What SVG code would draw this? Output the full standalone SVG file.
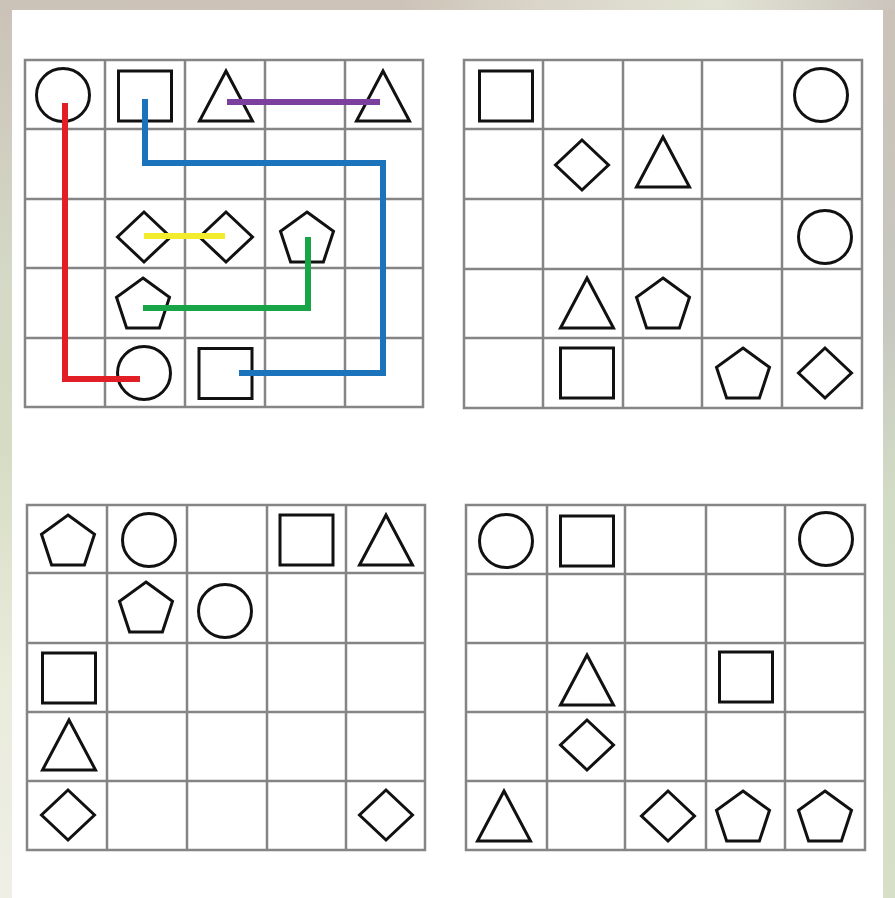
<svg xmlns="http://www.w3.org/2000/svg" xmlns:xlink="http://www.w3.org/1999/xlink" width="895" height="898" viewBox="0 0 895 898">
<defs>
<linearGradient id="bgL" x1="0" y1="0" x2="0" y2="1">
<stop offset="0" stop-color="#cbc2b8"/>
<stop offset="0.3" stop-color="#d4d8c6"/>
<stop offset="0.5" stop-color="#d6dcc4"/>
<stop offset="0.75" stop-color="#e9ebdb"/>
<stop offset="1" stop-color="#efefe6"/>
</linearGradient>
<linearGradient id="bgR" x1="0" y1="0" x2="0" y2="1">
<stop offset="0" stop-color="#cbc2b8"/>
<stop offset="0.35" stop-color="#c6c7c0"/>
<stop offset="0.55" stop-color="#d2dbc4"/>
<stop offset="1" stop-color="#d7e0c6"/>
</linearGradient>
<linearGradient id="bgT" x1="0" y1="0" x2="1" y2="0">
<stop offset="0" stop-color="#cbc2b8"/>
<stop offset="0.45" stop-color="#cec3b8"/>
<stop offset="0.6" stop-color="#d9d5c8"/>
<stop offset="0.8" stop-color="#e2e3d4"/>
<stop offset="1" stop-color="#cbc5bd"/>
</linearGradient>
<style>
.cell{fill:none;stroke:#858585;stroke-width:2.5}
.sh{fill:none;stroke:#111;stroke-width:3;stroke-linejoin:miter}
.ln{fill:none;stroke-width:6;stroke-linecap:butt;stroke-linejoin:miter}
</style>
<circle id="circle" class="sh" cx="0" cy="0" r="26.5"/>
<rect id="square" class="sh" x="-26.5" y="-25" width="53" height="50"/>
<polygon id="triangle" class="sh" points="0,-25 26.5,25 -26.5,25"/>
<polygon id="diamond" class="sh" points="0,-25 26.5,0 0,25 -26.5,0"/>
<polygon id="pentagon" class="sh" points="0,-25 26.5,-5.7 16.4,25 -16.4,25 -26.5,-5.7"/>
</defs>
<rect x="0" y="0" width="895" height="898" fill="url(#bgL)"/>
<rect x="840" y="0" width="55" height="898" fill="url(#bgR)"/>
<rect x="0" y="0" width="895" height="10" fill="url(#bgT)"/>
<rect x="12" y="10" width="871" height="888" fill="#ffffff"/>

<g id="grid1">
<path class="cell" d="M25,60H423V407H25Z M105,60V407 M185,60V407 M265,60V407 M345,60V407 M25,129H423 M25,199H423 M25,268H423 M25,338H423"/>
<g id="g1-r0c0"><use href="#circle" x="63" y="95"/></g>
<g id="g1-r0c1"><use href="#square" x="145" y="96"/></g>
<g id="g1-r0c2"><use href="#triangle" x="226" y="96"/></g>
<g id="g1-r0c4"><use href="#triangle" x="383" y="96"/></g>
<g id="g1-r2c1"><use href="#diamond" x="144" y="237"/></g>
<g id="g1-r2c2"><use href="#diamond" x="226" y="237"/></g>
<g id="g1-r2c3"><use href="#pentagon" x="307" y="237"/></g>
<g id="g1-r3c1"><use href="#pentagon" x="143" y="303"/></g>
<g id="g1-r4c1"><use href="#circle" x="144" y="373"/></g>
<g id="g1-r4c2"><use href="#square" x="225.5" y="373.5"/></g>
</g>

<g id="connectors">
<path class="ln" stroke="#e21f26" d="M65,103V379H140"/>
<path class="ln" stroke="#1b73bb" d="M145,99V163H383V373H239"/>
<path class="ln" stroke="#7b3f9e" d="M227,102H380"/>
<path class="ln" stroke="#f2ec2c" d="M144,236H225"/>
<path class="ln" stroke="#17a548" d="M308,237V308H143"/>
</g>

<g id="grid2">
<path class="cell" d="M464,60H862V408H464Z M543,60V408 M623,60V408 M702,60V408 M782,60V408 M464,129H862 M464,199H862 M464,269H862 M464,338H862"/>
<g id="g2-r0c0"><use href="#square" x="506" y="96"/></g>
<g id="g2-r0c4"><use href="#circle" x="821" y="95"/></g>
<g id="g2-r1c1"><use href="#diamond" x="582" y="165"/></g>
<g id="g2-r1c2"><use href="#triangle" x="663" y="162"/></g>
<g id="g2-r2c4"><use href="#circle" x="825" y="237"/></g>
<g id="g2-r3c1"><use href="#triangle" x="587" y="303"/></g>
<g id="g2-r3c2"><use href="#pentagon" x="663" y="303"/></g>
<g id="g2-r4c1"><use href="#square" x="587" y="373"/></g>
<g id="g2-r4c3"><use href="#pentagon" x="743" y="373"/></g>
<g id="g2-r4c4"><use href="#diamond" x="825" y="373"/></g>
</g>

<g id="grid3">
<path class="cell" d="M27,505H425V850H27Z M107,505V850 M187,505V850 M267,505V850 M346,505V850 M27,573H425 M27,643H425 M27,712H425 M27,781H425"/>
<g id="g3-r0c0"><use href="#pentagon" x="68" y="540"/></g>
<g id="g3-r0c1"><use href="#circle" x="149" y="540"/></g>
<g id="g3-r0c3"><use href="#square" x="306.5" y="540"/></g>
<g id="g3-r0c4"><use href="#triangle" x="386" y="540"/></g>
<g id="g3-r1c1"><use href="#pentagon" x="146" y="607"/></g>
<g id="g3-r1c2"><use href="#circle" x="225" y="611"/></g>
<g id="g3-r2c0"><use href="#square" x="69" y="678"/></g>
<g id="g3-r3c0"><use href="#triangle" x="69" y="745"/></g>
<g id="g3-r4c0"><use href="#diamond" x="68" y="815"/></g>
<g id="g3-r4c4"><use href="#diamond" x="386" y="815"/></g>
</g>

<g id="grid4">
<path class="cell" d="M466,505H865V850H466Z M547,505V850 M625,505V850 M706,505V850 M785,505V850 M466,574H865 M466,643H865 M466,712H865 M466,781H865"/>
<g id="g4-r0c0"><use href="#circle" x="506" y="541"/></g>
<g id="g4-r0c1"><use href="#square" x="587" y="541"/></g>
<g id="g4-r0c4"><use href="#circle" x="826" y="539"/></g>
<g id="g4-r2c1"><use href="#triangle" x="587" y="680"/></g>
<g id="g4-r2c3"><use href="#square" x="746" y="677"/></g>
<g id="g4-r3c1"><use href="#diamond" x="587" y="745"/></g>
<g id="g4-r4c0"><use href="#triangle" x="504" y="816"/></g>
<g id="g4-r4c2"><use href="#diamond" x="668" y="816"/></g>
<g id="g4-r4c3"><use href="#pentagon" x="743" y="816"/></g>
<g id="g4-r4c4"><use href="#pentagon" x="825" y="816"/></g>
</g>
</svg>
